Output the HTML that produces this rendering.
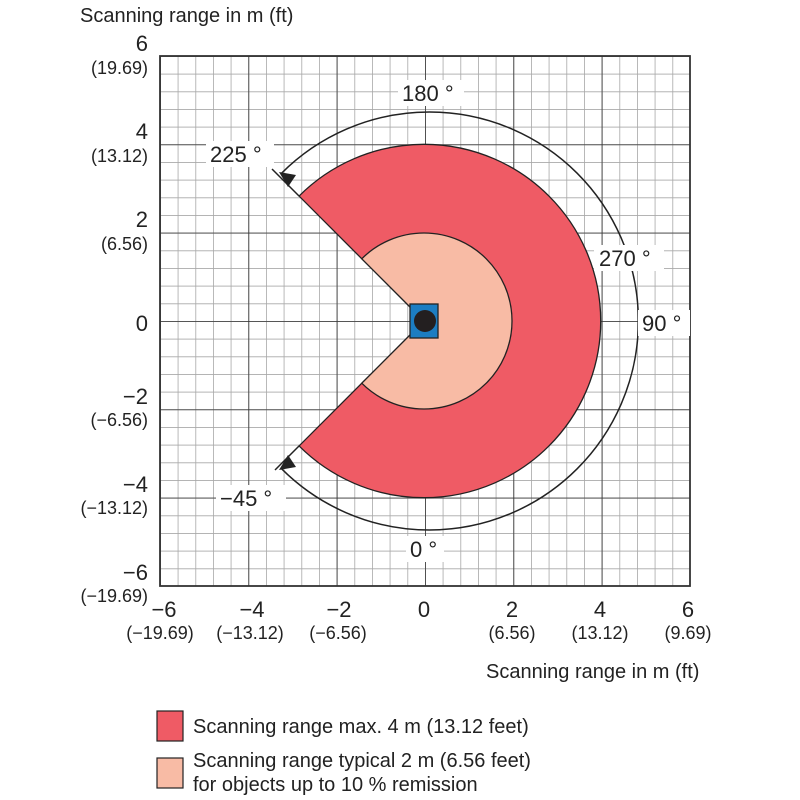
<!DOCTYPE html>
<html><head><meta charset="utf-8"><style>
html,body{margin:0;padding:0;background:#fff;}
svg{display:block;font-family:"Liberation Sans",sans-serif;}
</style></head><body>
<svg width="800" height="800" viewBox="0 0 800 800" xmlns="http://www.w3.org/2000/svg">
<defs>
<pattern id="minor" x="160" y="56" width="17.6667" height="17.6667" patternUnits="userSpaceOnUse">
<path d="M0 0 H17.6667 M0 0 V17.6667" stroke="#a8a8a8" stroke-width="1.6" fill="none"/>
</pattern>
<pattern id="major" x="160" y="56" width="88.333" height="88.333" patternUnits="userSpaceOnUse">
<path d="M0 0 H88.333 M0 0 V88.333" stroke="#333" stroke-width="1.6" fill="none"/>
</pattern>
</defs>
<rect x="160" y="56" width="530" height="530" fill="url(#minor)"/>
<rect x="160" y="56" width="530" height="530" fill="url(#major)"/>
<rect x="160" y="56" width="530" height="530" fill="none" stroke="#333" stroke-width="1.8"/>

<path d="M424 321 L299.06 196.06 A176.7 176.7 0 1 1 299.06 445.94 Z" fill="#ef5b65" stroke="#222" stroke-width="1.3"/>
<path d="M424 321 L361.78 258.78 A88 88 0 1 1 361.78 383.22 Z" fill="#f8bba5" stroke="#222" stroke-width="1.3"/>
<line x1="299" y1="196" x2="272" y2="169" stroke="#222" stroke-width="1.5"/>
<line x1="299" y1="446" x2="275" y2="470" stroke="#222" stroke-width="1.5"/>

<path d="M281.5 173.3 A209 209 0 1 1 281.5 468.7" fill="none" stroke="#222" stroke-width="1.5"/>
<polygon points="279,172 296,175 288,187" fill="#222"/>
<polygon points="279,470 288,455 296,467" fill="#222"/>

<rect x="410" y="304" width="28" height="34" fill="#1c7dc2" stroke="#222" stroke-width="1.3"/>
<circle cx="425" cy="321" r="11" fill="#231f20"/>

<g font-size="22" fill="#222">
<rect x="398" y="80" width="66" height="26" fill="#fff"/><text x="402" y="101">180 °</text>
<rect x="206" y="141" width="68" height="26" fill="#fff"/><text x="210" y="162">225 °</text>
<rect x="594" y="245" width="70" height="26" fill="#fff"/><text x="599" y="266">270 °</text>
<rect x="638" y="310" width="52" height="26" fill="#fff"/><text x="642" y="331">90 °</text>
<rect x="216" y="485" width="70" height="26" fill="#fff"/><text x="220" y="506">−45 °</text>
<rect x="406" y="536" width="38" height="26" fill="#fff"/><text x="410" y="557">0 °</text>
</g>

<text x="80" y="22" font-size="20" fill="#222">Scanning range in m (ft)</text>
<text x="486" y="678" font-size="20" fill="#222">Scanning range in m (ft)</text>

<g fill="#222" text-anchor="end">
<text x="148" y="51" font-size="22">6</text><text x="148" y="74" font-size="18">(19.69)</text>
<text x="148" y="139" font-size="22">4</text><text x="148" y="162" font-size="18">(13.12)</text>
<text x="148" y="227" font-size="22">2</text><text x="148" y="250" font-size="18">(6.56)</text>
<text x="148" y="331" font-size="22">0</text>
<text x="148" y="404" font-size="22">−2</text><text x="148" y="426" font-size="18">(−6.56)</text>
<text x="148" y="492" font-size="22">−4</text><text x="148" y="514" font-size="18">(−13.12)</text>
<text x="148" y="580" font-size="22">−6</text><text x="148" y="602" font-size="18">(−19.69)</text>
</g>
<g fill="#222" text-anchor="middle">
<text x="164" y="617" font-size="22">−6</text><text x="160" y="639" font-size="18">(−19.69)</text>
<text x="252" y="617" font-size="22">−4</text><text x="250" y="639" font-size="18">(−13.12)</text>
<text x="339" y="617" font-size="22">−2</text><text x="338" y="639" font-size="18">(−6.56)</text>
<text x="424" y="617" font-size="22">0</text>
<text x="512" y="617" font-size="22">2</text><text x="512" y="639" font-size="18">(6.56)</text>
<text x="600" y="617" font-size="22">4</text><text x="600" y="639" font-size="18">(13.12)</text>
<text x="688" y="617" font-size="22">6</text><text x="688" y="639" font-size="18">(9.69)</text>
</g>

<rect x="157" y="711" width="26" height="30" fill="#ef5b65" stroke="#222" stroke-width="1.2"/>
<rect x="157" y="758" width="26" height="30" fill="#f8bba5" stroke="#222" stroke-width="1.2"/>
<g font-size="20" fill="#222">
<text x="193" y="733">Scanning range max. 4 m (13.12 feet)</text>
<text x="193" y="767">Scanning range typical 2 m (6.56 feet)</text>
<text x="193" y="791">for objects up to 10 % remission</text>
</g>
</svg>
</body></html>
